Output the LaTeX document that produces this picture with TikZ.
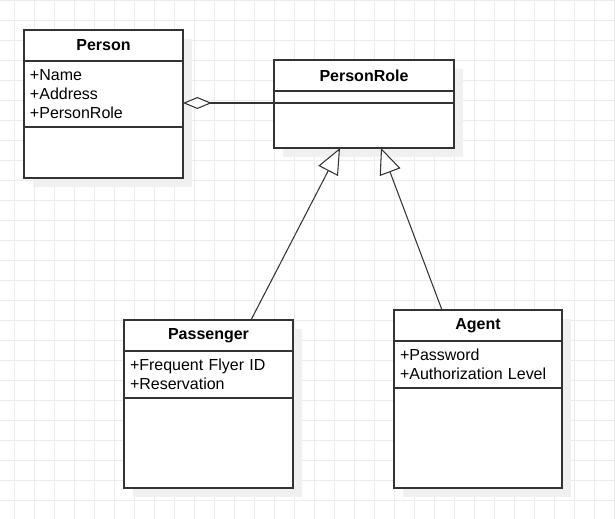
\documentclass[tikz,border=0pt]{standalone}
\usepackage{fontspec}
\setmainfont{Liberation Sans}
\usetikzlibrary{arrows.meta,shadows,calc}

\newcommand{\pu}{0.02cm}
\newcommand{\umlsize}{\fontsize{9.1pt}{10.8pt}\selectfont}

\begin{document}
\begin{tikzpicture}[x=\pu,y=-\pu]
  \tikzset{
    gridline/.style={draw=black!8,line width=0.5pt},
    box/.style={rectangle,draw=black!80,line width=0.8pt,fill=white,anchor=north west,
      inner sep=0pt,outer sep=0pt,
      drop shadow={shadow xshift=0.18cm,shadow yshift=-0.18cm,fill=black!6,opacity=1}},
    classname/.style={box,font=\umlsize\bfseries,minimum height=31*\pu},
    attrs/.style={box,font=\umlsize,align=left,inner xsep=6*\pu},
    ops/.style={box},
    aggregation/.style={draw=black!80,line width=0.6pt,
      -{Diamond[fill=white,length=16.4pt,width=6.8pt]}},
    inherit/.style={draw=black!80,line width=0.6pt,
      -{Triangle[fill=white,length=14.7pt,width=12.5pt]}}
  }
  \useasboundingbox (0,0) rectangle (615,519);
  % background grid
  \foreach \gx in {14,34,...,614} \draw[gridline] (\gx,0) -- (\gx,519);
  \foreach \gy in {0,20,...,500} \draw[gridline] (0,\gy) -- (615,\gy);

  % Person
  \node[classname,minimum width=159*\pu] (person) at (24,30) {Person};
  \node[attrs,text width=2.94cm,minimum height=66*\pu] (person attr) at (24,61)
    {+Name\\+Address\\+PersonRole};
  \node[ops,minimum width=159*\pu,minimum height=51*\pu] (person ops) at (24,127) {};

  % PersonRole
  \node[classname,minimum width=180*\pu] (role) at (274,60) {PersonRole};
  \node[ops,minimum width=180*\pu,minimum height=12*\pu] (role attr) at (274,91) {};
  \node[ops,minimum width=180*\pu,minimum height=45*\pu] (role ops) at (274,103) {};

  % Passenger
  \node[classname,minimum width=169*\pu] (passenger) at (124,320) {Passenger};
  \node[attrs,text width=3.14cm,minimum height=47*\pu] (passenger attr) at (124,351)
    {+Frequent Flyer ID\\+Reservation};
  \node[ops,minimum width=169*\pu,minimum height=90*\pu] (passenger ops) at (124,398) {};

  % Agent
  \node[classname,minimum width=168*\pu] (agent) at (394,310) {Agent};
  \node[attrs,text width=3.12cm,minimum height=47*\pu] (agent attr) at (394,341)
    {+Password\\+Authorization Level};
  \node[ops,minimum width=168*\pu,minimum height=100*\pu] (agent ops) at (394,388) {};

  % relations
  \draw[aggregation] (role ops.north west) -- (person attr.east |- role ops.north west);
  \draw[inherit] ($(passenger.north west)+(127,0)$) -- ($(role ops.south west)+(66,0)$);
  \draw[inherit] ($(agent.north west)+(48,0)$) -- ($(role ops.south west)+(107,0)$);
\end{tikzpicture}
\end{document}
